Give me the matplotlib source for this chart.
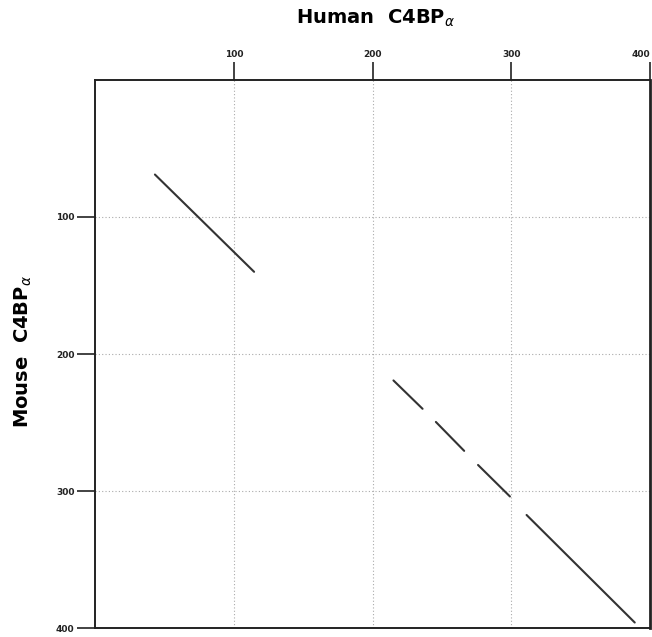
import matplotlib
matplotlib.use("Agg")
import matplotlib.pyplot as plt

# Dot-plot diagonal segments (residue positions): human (x) vs mouse (y)
seg_x_start = [43, 215, 245.6, 276, 311]
seg_x_end = [114.5, 236, 266, 299, 389]
seg_y_start = [69, 219.3, 249.6, 281, 317.5]
seg_y_end = [140, 240, 270.7, 304, 396]

x_ticks = [100, 200, 300, 400]
y_ticks = [100, 200, 300, 400]
x_label = r"Human  C4BP$_{\alpha}$"
y_label = r"Mouse  C4BP$_{\alpha}$"

fig = plt.figure(figsize=(6.52, 6.37), dpi=100)
ax = fig.add_axes([95.3 / 652, 9 / 637, (650 - 95.3) / 652, (628 - 80) / 637])
ax.set_xlim(0, 400)
ax.set_ylim(400, 0)

for xs, xe, ys, ye in zip(seg_x_start, seg_x_end, seg_y_start, seg_y_end):
    ax.plot([xs, xe], [ys, ye], color="#333333", lw=1.5, solid_capstyle="round")

for v in x_ticks[:-1]:
    ax.axvline(v, color="#aaaaaa", lw=0.8, ls=(0, (1, 2)), zorder=0)
for v in y_ticks[:-1]:
    ax.axhline(v, color="#aaaaaa", lw=0.8, ls=(0, (1, 2)), zorder=0)

ax.xaxis.set_ticks_position("top")
ax.xaxis.set_label_position("top")
ax.set_xticks(x_ticks)
ax.set_yticks(y_ticks)
ax.set_xticklabels([str(t) for t in x_ticks], fontsize=6.5, fontweight="bold")
ax.set_yticklabels([str(t) for t in y_ticks], fontsize=6.5, fontweight="bold")
ax.tick_params(axis="both", length=13, width=1.2, pad=2, colors="#222222")
xl = ax.get_xticklabels()
xl[-1].set_horizontalalignment("right")

for s in ax.spines.values():
    s.set_linewidth(1.4)
    s.set_color("#222222")
ax.spines["right"].set_linewidth(2.0)

fig.text(376 / 652, 1 - 18 / 637, x_label, ha="center", va="center",
         fontsize=14, fontweight="bold")
fig.text(23 / 652, 1 - 351 / 637, y_label, ha="center", va="center",
         fontsize=14, fontweight="bold", rotation=90)

fig.savefig("out.png", dpi=100)
